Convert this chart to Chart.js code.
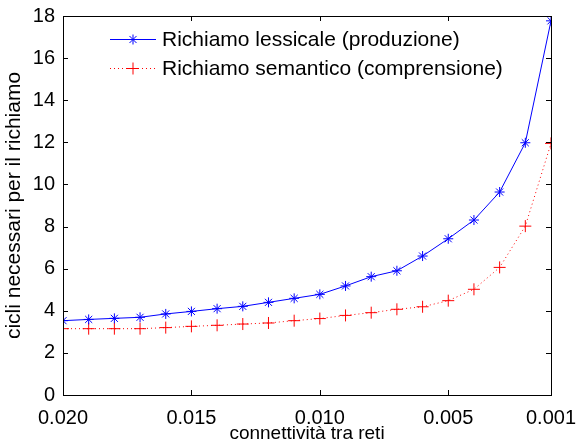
<!DOCTYPE html>
<html>
<head>
<meta charset="utf-8">
<script src="https://cdn.jsdelivr.net/npm/chart.js@4"></script>
<style>
  html, body { margin: 0; padding: 0; background: #fff; }
  canvas { display: block; }
</style>
</head>
<body>
<canvas id="chart" width="578" height="448"></canvas>
<script>
const connettivita = [0.020, 0.019, 0.018, 0.017, 0.016, 0.015, 0.014, 0.013, 0.012, 0.011,
                      0.010, 0.009, 0.008, 0.007, 0.006, 0.005, 0.004, 0.003, 0.002, 0.001];
const lessicale = [3.53, 3.59, 3.64, 3.69, 3.85, 3.97, 4.10, 4.21, 4.40, 4.59,
                   4.78, 5.18, 5.62, 5.90, 6.60, 7.42, 8.31, 9.64, 11.98, 17.77];
const semantico = [3.15, 3.15, 3.15, 3.15, 3.20, 3.26, 3.31, 3.37, 3.42, 3.53,
                   3.63, 3.78, 3.91, 4.07, 4.19, 4.48, 5.02, 6.06, 8.02, 11.95];
const xTicks = [0.020, 0.015, 0.010, 0.005, 0.001];
const yTicks = [0, 2, 4, 6, 8, 10, 12, 14, 16, 18];
const labels = ["Richiamo lessicale (produzione)", "Richiamo semantico (comprensione)"];

const FONT = "'Liberation Sans', Arial, sans-serif";

// box, inward ticks and legend drawn the matlab way
const matlabAxes = {
  id: "matlabAxes",
  afterDraw(chart) {
    const { ctx, chartArea: a, scales } = chart;
    ctx.save();
    ctx.strokeStyle = "#000";
    ctx.lineWidth = 1;
    ctx.strokeRect(Math.round(a.left) + 0.5, Math.round(a.top) + 0.5,
                   Math.round(a.right - a.left), Math.round(a.bottom - a.top));
    const len = 5;
    ctx.beginPath();
    xTicks.forEach(v => {
      const x = Math.round(scales.x.getPixelForValue(v)) + 0.5;
      ctx.moveTo(x, a.bottom); ctx.lineTo(x, a.bottom - len);
      ctx.moveTo(x, a.top); ctx.lineTo(x, a.top + len);
    });
    yTicks.forEach(v => {
      const y = Math.round(scales.y.getPixelForValue(v)) + 0.5;
      ctx.moveTo(a.left, y); ctx.lineTo(a.left + len, y);
      ctx.moveTo(a.right, y); ctx.lineTo(a.right - len, y);
    });
    ctx.stroke();

    // legend
    const ds = chart.data.datasets;
    const rows = [39, 68];
    ds.forEach((d, i) => {
      const y = rows[i] + 0.5;
      ctx.strokeStyle = d.borderColor;
      ctx.setLineDash(d.borderDash || []);
      ctx.beginPath();
      ctx.moveTo(110, y); ctx.lineTo(156, y);
      ctx.stroke();
      ctx.setLineDash([]);
      Chart.helpers.drawPoint(ctx, {
        pointStyle: d.pointStyle, radius: d.pointRadius, borderWidth: 1
      }, 133, y);
      ctx.fillStyle = "#000";
      ctx.font = "21px " + FONT;
      ctx.textBaseline = "middle";
      ctx.fillText(labels[i], 162, y + 1);
    });
    ctx.restore();
  }
};

new Chart(document.getElementById("chart"), {
  type: "line",
  data: {
    datasets: [{
      label: labels[0],
      data: connettivita.map((x, i) => ({ x, y: lessicale[i] })),
      borderColor: "#0000ff",
      backgroundColor: "#0000ff",
      borderWidth: 1,
      pointStyle: "star",
      pointRadius: 5,
      pointBorderWidth: 1,
      tension: 0
    }, {
      label: labels[1],
      data: connettivita.map((x, i) => ({ x, y: semantico[i] })),
      borderColor: "#ff0000",
      backgroundColor: "#ff0000",
      borderWidth: 1,
      borderDash: [1, 3],
      pointStyle: "cross",
      pointRadius: 6,
      pointBorderWidth: 1,
      tension: 0
    }]
  },
  options: {
    responsive: false,
    animation: false,
    layout: { padding: { left: 0, top: 16, right: 27, bottom: 0 } },
    plugins: { legend: { display: false }, tooltip: { enabled: false } },
    scales: {
      x: {
        type: "linear",
        reverse: true,
        min: 0.001,
        max: 0.020,
        afterBuildTicks: s => { s.ticks = xTicks.map(v => ({ value: v })); },
        afterFit: s => { s.height = 53; s.paddingLeft = 0; s.paddingRight = 0; },
        grid: { display: false, drawTicks: false },
        border: { display: false },
        ticks: {
          color: "#000",
          padding: 11,
          maxRotation: 0,
          autoSkip: false,
          font: { family: FONT, size: 20 },
          callback: v => v.toFixed(3)
        },
        title: {
          display: true,
          text: "connettività tra reti",
          color: "#000",
          padding: { top: 0, bottom: 3 },
          font: { family: FONT, size: 19 }
        }
      },
      y: {
        min: 0,
        max: 18,
        afterBuildTicks: s => { s.ticks = yTicks.map(v => ({ value: v })); },
        afterFit: s => { s.width = 63; s.paddingTop = 0; s.paddingBottom = 0; },
        grid: { display: false, drawTicks: false },
        border: { display: false },
        ticks: {
          color: "#000",
          padding: 8,
          font: { family: FONT, size: 20 }
        },
        title: {
          display: true,
          text: "cicli necessari per il richiamo",
          color: "#000",
          padding: { top: 2, bottom: 0 },
          font: { family: FONT, size: 21 }
        }
      }
    }
  },
  plugins: [matlabAxes]
});
</script>
</body>
</html>
